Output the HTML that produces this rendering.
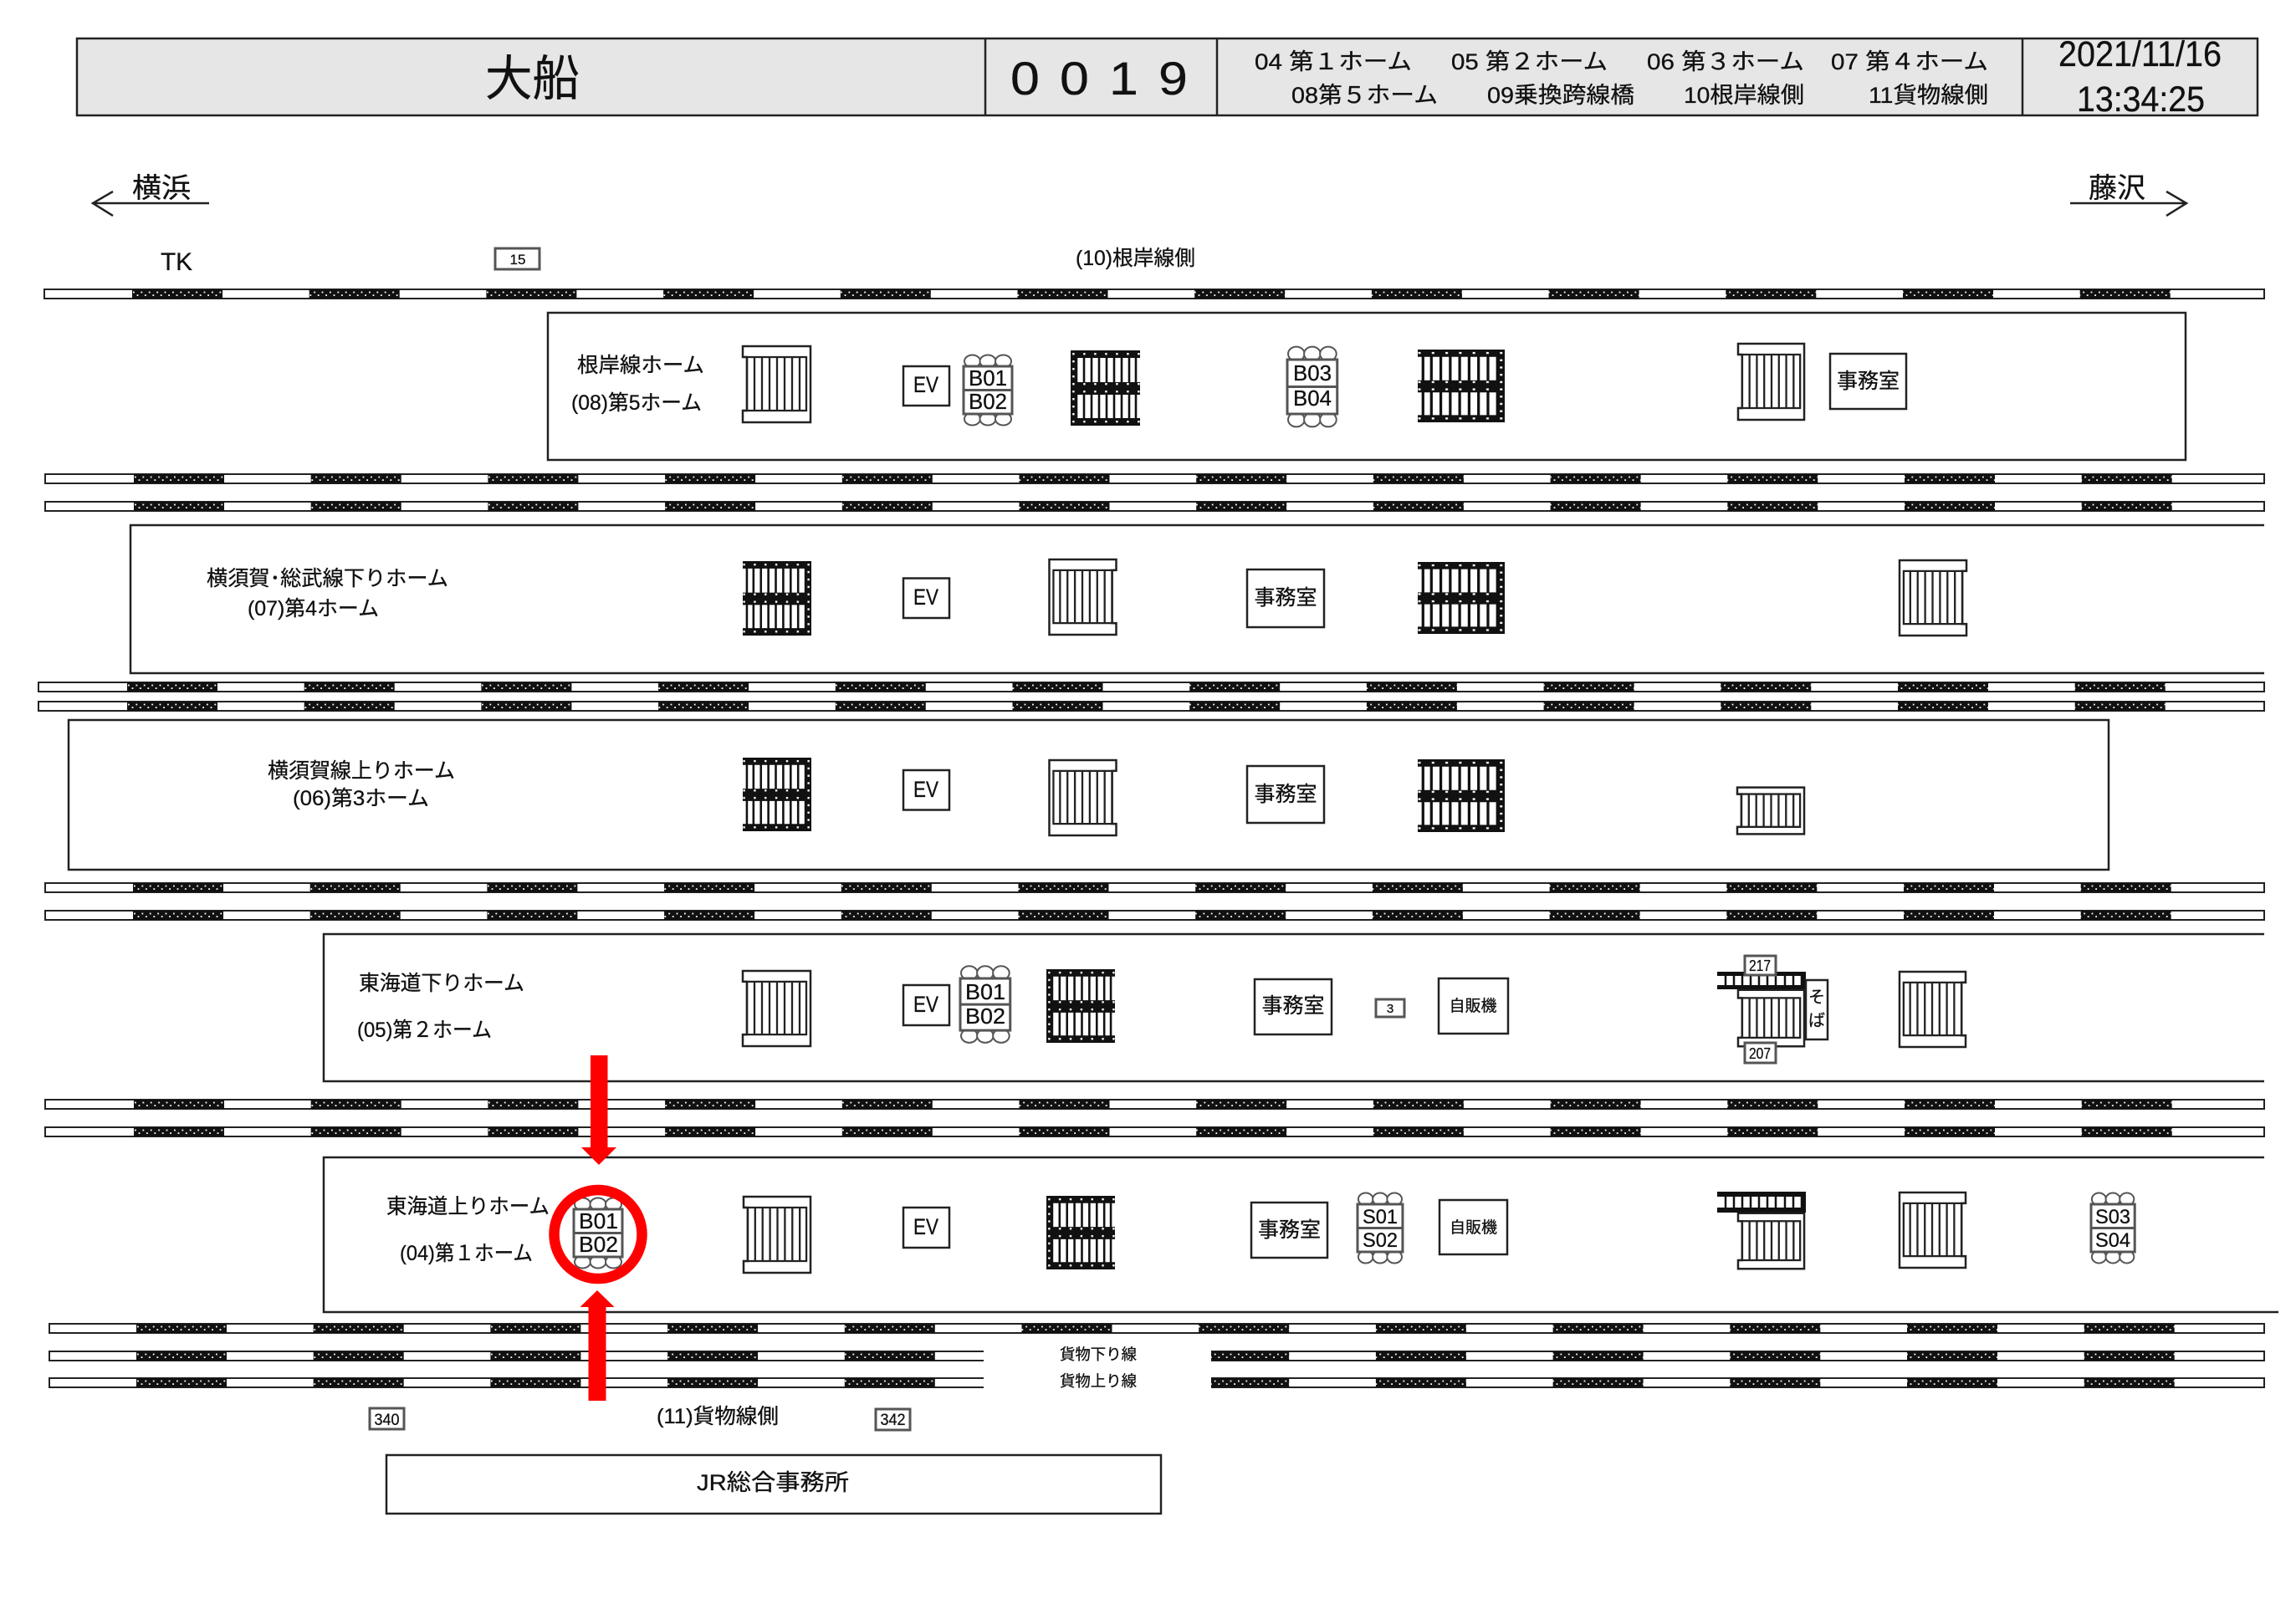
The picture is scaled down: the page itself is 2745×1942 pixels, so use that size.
<!DOCTYPE html>
<html lang="ja"><head><meta charset="utf-8"><title>大船</title>
<style>
html,body{margin:0;padding:0;background:#fff}
svg{display:block}
text{font-family:"Liberation Sans","Noto Sans CJK JP",sans-serif;fill:#111;stroke:#111;stroke-width:.3}
.b{fill:none;stroke:#222;stroke-width:2.5}
.bw{fill:#fff;stroke:#222;stroke-width:2.5}
.t{fill:#fff;stroke:#222;stroke-width:2}
.g{fill:#fff;stroke:#555;stroke-width:3}
.ns *{vector-effect:non-scaling-stroke}
</style></head><body>
<svg xmlns="http://www.w3.org/2000/svg" width="2745" height="1942" viewBox="0 0 2745 1942">
<defs>
<pattern id="d" patternUnits="userSpaceOnUse" width="9.4" height="11">
<rect width="9.4" height="11" fill="#111"/><rect x="1" y="2.6" width="1.8" height="1.8" fill="#fff"/><rect x="5.6" y="6.2" width="1.8" height="1.8" fill="#fff"/>
</pattern>
<pattern id="d2" patternUnits="userSpaceOnUse" width="13" height="9">
<rect width="13" height="9" fill="#111"/><rect x="2.2" y="3" width="2.4" height="2.4" fill="#fff"/>
</pattern>
<g id="s" fill="url(#d)">
<rect x="0" width="108" height="11"/><rect x="211.7" width="108" height="11"/><rect x="423.4" width="108" height="11"/><rect x="635.1" width="108" height="11"/><rect x="846.8" width="108" height="11"/><rect x="1058.5" width="108" height="11"/><rect x="1270.2" width="108" height="11"/><rect x="1481.9" width="108" height="11"/><rect x="1693.6" width="108" height="11"/><rect x="1905.3" width="108" height="11"/><rect x="2117" width="108" height="11"/><rect x="2328.7" width="108" height="11"/>
</g>
<g id="wr" class="ns">
<path class="bw" d="M1,1H82V92H1V78H6V14H1Z"/>
<path class="b" style="stroke-width:2.3" d="M1,14H77V78H1M6,14V78M15,14V78M24,14V78M33,14V78M42,14V78M51,14V78M60,14V78M69,14V78"/>
</g>
<g id="bl">
<path d="M7,5V85M16,5V85M25,5V85M34,5V85M43,5V85M52,5V85M61,5V85M70,5V85M78,5V85" fill="none" stroke="#111" stroke-width="2.6"/>
<path fill="url(#d2)" d="M0,0H83V9H6V38H83V53H6V81H83V90H0Z"/>
</g>
<g id="be" class="ns">
<ellipse class="g" cx="10.5" cy="-6" rx="9.5" ry="7.5" style="stroke-width:2"/><ellipse class="g" cx="29" cy="-6" rx="9.5" ry="7.5" style="stroke-width:2"/><ellipse class="g" cx="47.5" cy="-6" rx="9.5" ry="7.5" style="stroke-width:2"/>
<ellipse class="g" cx="10.5" cy="63" rx="9.5" ry="7.5" style="stroke-width:2"/><ellipse class="g" cx="29" cy="63" rx="9.5" ry="7.5" style="stroke-width:2"/><ellipse class="g" cx="47.5" cy="63" rx="9.5" ry="7.5" style="stroke-width:2"/>
<rect class="g" x="0" y="0" width="58" height="57"/><path class="g" d="M0,28.5H58"/>
</g>
</defs>

<!-- header -->
<rect x="92" y="46" width="2607" height="92" fill="#e6e6e6" stroke="#222" stroke-width="2.5"/>
<path class="b" d="M1178,46V138M1455,46V138M2418,46V138"/>
<text x="580" y="114" font-size="58" textLength="113" lengthAdjust="spacingAndGlyphs">大船</text>
<text transform="translate(1208,113) scale(1.12,1)" x="0 52.7 105.4 158" y="0" font-size="56">0019</text>
<g font-size="27">
<text x="1500" y="83" textLength="188" lengthAdjust="spacingAndGlyphs">04 第１ホーム</text>
<text x="1735" y="83" textLength="187" lengthAdjust="spacingAndGlyphs">05 第２ホーム</text>
<text x="1969" y="83" textLength="188" lengthAdjust="spacingAndGlyphs">06 第３ホーム</text>
<text x="2189" y="83" textLength="188" lengthAdjust="spacingAndGlyphs">07 第４ホーム</text>
<text x="1544" y="123" textLength="175" lengthAdjust="spacingAndGlyphs">08第５ホーム</text>
<text x="1778" y="123" textLength="176" lengthAdjust="spacingAndGlyphs">09乗換跨線橋</text>
<text x="2013" y="123" textLength="144" lengthAdjust="spacingAndGlyphs">10根岸線側</text>
<text x="2234" y="123" textLength="143" lengthAdjust="spacingAndGlyphs">11貨物線側</text>
</g>
<text x="2461" y="79" font-size="43" textLength="195" lengthAdjust="spacingAndGlyphs">2021/11/16</text>
<text x="2483" y="133" font-size="43" textLength="153" lengthAdjust="spacingAndGlyphs">13:34:25</text>

<!-- direction -->
<text x="158" y="236" font-size="33" textLength="70" lengthAdjust="spacingAndGlyphs">横浜</text>
<path class="b" d="M250,243H111M135,229L111,243L135,258"/>
<text x="2497" y="236" font-size="33" textLength="68" lengthAdjust="spacingAndGlyphs">藤沢</text>
<path class="b" d="M2475,243H2614M2590,229L2614,243L2590,258"/>
<text x="192" y="323" font-size="30" textLength="38" lengthAdjust="spacingAndGlyphs">TK</text>
<rect class="g" x="592" y="297" width="53" height="25"/>
<text x="619" y="316" font-size="17" text-anchor="middle">15</text>
<text x="1286" y="317" font-size="25" textLength="143" lengthAdjust="spacingAndGlyphs">(10)根岸線側</text>

<!-- platforms -->
<rect class="b" x="655" y="374" width="1958" height="176"/>
<path class="b" d="M2707,628H156V805H2707"/>
<rect class="b" x="82" y="861" width="2439" height="179"/>
<path class="b" d="M2707,1117H387V1293H2707"/>
<path class="b" d="M2707,1384H387V1569H2724"/>
<rect class="b" x="462" y="1740" width="926" height="70"/>

<!-- tracks -->
<rect class="t" x="53" y="346" width="2654" height="11"/><use href="#s" x="158" y="346"/>
<rect class="t" x="54" y="567" width="2653" height="11"/><use href="#s" x="160" y="567"/>
<rect class="t" x="54" y="600" width="2653" height="11"/><use href="#s" x="160" y="600"/>
<rect class="t" x="46" y="816" width="2661" height="11"/><use href="#s" x="152" y="816"/>
<rect class="t" x="46" y="839" width="2661" height="11"/><use href="#s" x="152" y="839"/>
<rect class="t" x="54" y="1056" width="2653" height="11"/><use href="#s" x="159" y="1056"/>
<rect class="t" x="54" y="1089" width="2653" height="11"/><use href="#s" x="159" y="1089"/>
<rect class="t" x="54" y="1315" width="2653" height="11"/><use href="#s" x="160" y="1315"/>
<rect class="t" x="54" y="1348" width="2653" height="11"/><use href="#s" x="160" y="1348"/>
<rect class="t" x="59" y="1583" width="2648" height="11"/><use href="#s" x="163" y="1583"/>
<rect class="t" x="59" y="1616" width="2648" height="11"/><use href="#s" x="163" y="1616"/>
<rect class="t" x="59" y="1648" width="2648" height="11"/><use href="#s" x="163" y="1648"/>
<rect x="1176" y="1610" width="272" height="55" fill="#fff"/>
<text x="1267" y="1626" font-size="18.5" textLength="92" lengthAdjust="spacingAndGlyphs">貨物下り線</text>
<text x="1267" y="1658" font-size="18.5" textLength="92" lengthAdjust="spacingAndGlyphs">貨物上り線</text>

<!-- row 08 -->
<text x="690" y="445" font-size="25" textLength="152" lengthAdjust="spacingAndGlyphs">根岸線ホーム</text>
<text x="683" y="490" font-size="25" textLength="156" lengthAdjust="spacingAndGlyphs">(08)第5ホーム</text>
<use href="#wr" transform="translate(887,413)"/>
<rect class="b" x="1080" y="438" width="55" height="47"/><text x="1092" y="469" font-size="27" textLength="30" lengthAdjust="spacingAndGlyphs">EV</text>
<use href="#be" transform="translate(1152,438)"/>
<text x="1158" y="461" font-size="26" textLength="46" lengthAdjust="spacingAndGlyphs">B01</text><text x="1158" y="489" font-size="26" textLength="46" lengthAdjust="spacingAndGlyphs">B02</text>
<use href="#bl" transform="translate(1280,419)"/>
<g transform="translate(1539,430) scale(1.03,1.14)"><use href="#be"/></g>
<text x="1546" y="455" font-size="26" textLength="46" lengthAdjust="spacingAndGlyphs">B03</text><text x="1546" y="485" font-size="26" textLength="46" lengthAdjust="spacingAndGlyphs">B04</text>
<use href="#bl" transform="translate(1799,418) scale(-1.253,0.967)"/>
<use href="#wr" transform="translate(2077,410) scale(0.976,1)"/>
<rect class="b" x="2188" y="423" width="91" height="66"/><text x="2233.5" y="464" font-size="25" text-anchor="middle">事務室</text>

<!-- row 07 -->
<text x="247" y="700" font-size="25" textLength="289" lengthAdjust="spacingAndGlyphs">横須賀･総武線下りホーム</text>
<text x="296" y="736" font-size="25" textLength="157" lengthAdjust="spacingAndGlyphs">(07)第4ホーム</text>
<use href="#bl" transform="translate(970,671) scale(-0.988,0.989)"/>
<rect class="b" x="1080" y="691.5" width="55" height="47.5"/><text x="1092" y="723" font-size="27" textLength="30" lengthAdjust="spacingAndGlyphs">EV</text>
<use href="#wr" transform="translate(1335.5,668) scale(-0.988,0.989)"/>
<rect class="b" x="1491" y="681" width="92" height="69"/><text x="1537" y="723" font-size="25" text-anchor="middle">事務室</text>
<use href="#bl" transform="translate(1799,672) scale(-1.253,0.956)"/>
<use href="#wr" transform="translate(2352,669) scale(-0.988,0.989)"/>

<!-- row 06 -->
<text x="320" y="930" font-size="25" textLength="224" lengthAdjust="spacingAndGlyphs">横須賀線上りホーム</text>
<text x="350" y="963" font-size="25" textLength="163" lengthAdjust="spacingAndGlyphs">(06)第3ホーム</text>
<use href="#bl" transform="translate(970,906) scale(-0.988,0.978)"/>
<rect class="b" x="1080" y="921" width="55" height="47.5"/><text x="1092" y="953" font-size="27" textLength="30" lengthAdjust="spacingAndGlyphs">EV</text>
<use href="#wr" transform="translate(1335.5,908) scale(-0.988,0.989)"/>
<rect class="b" x="1491" y="916" width="92" height="68"/><text x="1537" y="958" font-size="25" text-anchor="middle">事務室</text>
<use href="#bl" transform="translate(1799,908) scale(-1.253,0.967)"/>
<use href="#wr" transform="translate(2076,941) scale(0.988,0.613)"/>

<!-- row 05 -->
<text x="429" y="1184" font-size="25" textLength="198" lengthAdjust="spacingAndGlyphs">東海道下りホーム</text>
<text x="427" y="1240" font-size="25" textLength="161" lengthAdjust="spacingAndGlyphs">(05)第２ホーム</text>
<use href="#wr" transform="translate(887,1160) scale(1,0.989)"/>
<rect class="b" x="1080" y="1178" width="55" height="48"/><text x="1092" y="1210" font-size="27" textLength="30" lengthAdjust="spacingAndGlyphs">EV</text>
<g transform="translate(1148,1170) scale(1.03,1.09)"><use href="#be"/></g>
<text x="1154" y="1195" font-size="26" textLength="48" lengthAdjust="spacingAndGlyphs">B01</text><text x="1154" y="1224" font-size="26" textLength="48" lengthAdjust="spacingAndGlyphs">B02</text>
<use href="#bl" transform="translate(1251,1159) scale(0.988,0.978)"/>
<rect class="b" x="1500" y="1171" width="92" height="66"/><text x="1546" y="1211" font-size="25" text-anchor="middle">事務室</text>
<rect class="g" x="1645" y="1195" width="34" height="21"/><text x="1662" y="1211" font-size="15" text-anchor="middle">3</text>
<rect class="b" x="1720" y="1170" width="83" height="66"/><text x="1761" y="1209" font-size="19" text-anchor="middle">自販機</text>
<use href="#wr" transform="translate(2077,1183) scale(0.976,0.742)"/>
<path d="M2063,1165V1180M2073,1165V1180M2083,1165V1180M2093,1165V1180M2103,1165V1180M2113,1165V1180M2123,1165V1180M2134,1165V1180M2144,1165V1180M2154,1165V1180" stroke="#111" stroke-width="2.5" fill="none"/>
<path fill="#111" d="M2053,1162H2159V1183H2053V1178H2155V1167H2053Z"/>
<rect class="g" x="2086" y="1143" width="37" height="23"/><text x="2104" y="1161" font-size="18" text-anchor="middle" textLength="26" lengthAdjust="spacingAndGlyphs">217</text>
<rect class="g" x="2086" y="1247" width="37" height="24"/><text x="2104" y="1266" font-size="18" text-anchor="middle" textLength="26" lengthAdjust="spacingAndGlyphs">207</text>
<rect class="bw" x="2159" y="1172" width="26" height="71"/>
<text x="2172" y="1199" font-size="20" text-anchor="middle">そ</text><text x="2172" y="1227" font-size="20" text-anchor="middle">ば</text>
<use href="#wr" transform="translate(2351,1161) scale(-0.976,0.989)"/>

<!-- row 04 -->
<text x="462" y="1451" font-size="25" textLength="195" lengthAdjust="spacingAndGlyphs">東海道上りホーム</text>
<text x="478" y="1507" font-size="25" textLength="159" lengthAdjust="spacingAndGlyphs">(04)第１ホーム</text>
<use href="#be" transform="translate(686,1446)"/>
<text x="692" y="1469" font-size="26" textLength="47" lengthAdjust="spacingAndGlyphs">B01</text><text x="692" y="1497" font-size="26" textLength="47" lengthAdjust="spacingAndGlyphs">B02</text>
<use href="#wr" transform="translate(888,1430) scale(0.988,1)"/>
<rect class="b" x="1080" y="1444" width="55" height="48"/><text x="1092" y="1476" font-size="27" textLength="30" lengthAdjust="spacingAndGlyphs">EV</text>
<use href="#bl" transform="translate(1251,1430) scale(0.988,0.978)"/>
<rect class="b" x="1496" y="1438" width="91" height="66"/><text x="1541.5" y="1479" font-size="25" text-anchor="middle">事務室</text>
<g transform="translate(1623,1440) scale(0.93,1)"><use href="#be"/></g>
<text x="1629" y="1463" font-size="24" textLength="42" lengthAdjust="spacingAndGlyphs">S01</text><text x="1629" y="1491" font-size="24" textLength="42" lengthAdjust="spacingAndGlyphs">S02</text>
<rect class="b" x="1721" y="1435" width="81" height="65"/><text x="1761.5" y="1474" font-size="19" text-anchor="middle">自販機</text>
<use href="#wr" transform="translate(2077,1450) scale(0.976,0.731)"/>
<path d="M2063,1428V1447M2073,1428V1447M2083,1428V1447M2093,1428V1447M2103,1428V1447M2113,1428V1447M2123,1428V1447M2134,1428V1447M2144,1428V1447M2154,1428V1447" stroke="#111" stroke-width="2.5" fill="none"/>
<path fill="#111" d="M2053,1425H2159V1450H2053V1444H2155V1431H2053Z"/>
<use href="#wr" transform="translate(2351,1425) scale(-0.976,0.989)"/>
<g transform="translate(2500,1440) scale(0.9,1)"><use href="#be"/></g>
<text x="2505" y="1463" font-size="24" textLength="42" lengthAdjust="spacingAndGlyphs">S03</text><text x="2505" y="1491" font-size="24" textLength="42" lengthAdjust="spacingAndGlyphs">S04</text>

<!-- bottom -->
<rect class="g" x="442" y="1684" width="41" height="25"/><text x="462.5" y="1704" font-size="19" text-anchor="middle" textLength="30" lengthAdjust="spacingAndGlyphs">340</text>
<text x="785" y="1702" font-size="25" textLength="146" lengthAdjust="spacingAndGlyphs">(11)貨物線側</text>
<rect class="g" x="1047" y="1685" width="41" height="25"/><text x="1067.5" y="1704" font-size="19" text-anchor="middle" textLength="30" lengthAdjust="spacingAndGlyphs">342</text>
<text x="833" y="1782" font-size="27" textLength="182" lengthAdjust="spacingAndGlyphs">JR総合事務所</text>

<!-- red markers -->
<ellipse cx="715" cy="1476" rx="52.5" ry="53" fill="none" stroke="#ff0000" stroke-width="12.5"/>
<polygon fill="#ff0000" points="706,1262 726.5,1262 726.5,1372 737,1372 716,1393 695,1372 706,1372"/>
<polygon fill="#ff0000" points="703.5,1675 724.5,1675 724.5,1563 734.5,1563 714,1543 693.5,1563 703.5,1563"/>
</svg>
</body></html>
